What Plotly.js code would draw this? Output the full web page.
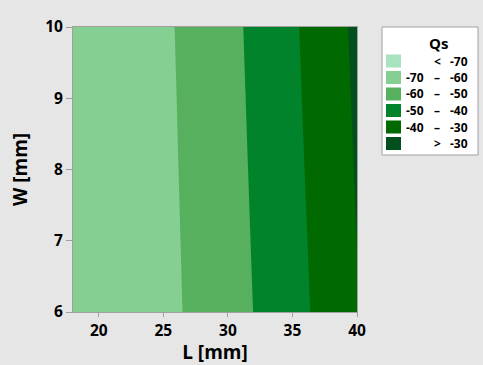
<!DOCTYPE html>
<html><head><meta charset="utf-8">
<script src="https://cdn.plot.ly/plotly-3.0.1.min.js"></script>
<style>html,body{margin:0;padding:0;background:#e6e6e6;}#chart{width:483px;height:365px;}</style>
</head><body><div id="chart"></div>
<script>
// ---- data ----
const L = [18, 20, 22, 24, 26, 28, 30, 32, 34, 36, 38, 40];
const W = [6, 8, 10];
const Qs_W6  = [-69.6, -68.8, -66.4, -63.8, -60.8, -57.5, -53.9, -49.9, -45.7, -40.9, -36.2, -30.6];
const Qs_W8  = [-69.3, -68.5, -66.05, -63.35, -60.3, -56.9, -53.2, -49.1, -44.75, -39.85, -35.0, -29.3];
const Qs_W10 = [-69.0, -68.2, -65.7, -62.9, -59.8, -56.3, -52.5, -48.3, -43.8, -38.8, -33.8, -28.0];
const levels = [-70, -60, -50, -40, -30];
const bandColors = ['#a8e3bf', '#84cf91', '#57b05d', '#00832a', '#006a00', '#004f1c'];
const legendRows = [['<', '', '-70'], ['-70', '–', '-60'], ['-60', '–', '-50'], ['-50', '–', '-40'], ['-40', '–', '-30'], ['>', '', '-30']];
const xTicks = [20, 25, 30, 35, 40];
const yTicks = [6, 7, 8, 9, 10];

// ---- layout helpers ----
const M = {l: 73, r: 126, t: 27, b: 53};
const PW = 483 - M.l - M.r, PH = 365 - M.t - M.b;
const px = x => (x - M.l) / PW;
const py = y => (365 - M.b - y) / PH;

const n = bandColors.length;
const colorscale = bandColors.map((c, i) => [i / (n - 1), c]);

const trace = {
  type: 'contour',
  x: L, y: W, z: [Qs_W6, Qs_W8, Qs_W10],
  autocontour: false,
  contours: {start: levels[0], end: levels[levels.length - 1], size: levels[1] - levels[0], coloring: 'fill', showlines: false},
  line: {width: 0},
  colorscale: colorscale,
  showscale: false,
  hoverinfo: 'skip'
};

const shapes = [{
  type: 'rect', xref: 'paper', yref: 'paper',
  x0: px(382), x1: px(478), y0: py(27), y1: py(155),
  fillcolor: '#ffffff', line: {color: '#a0a0a0', width: 1}
}];
const annotations = [{
  xref: 'paper', yref: 'paper', x: px(438), y: py(43), text: 'Qs', showarrow: false,
  xanchor: 'center', yanchor: 'middle', font: {family: 'Open Sans', size: 15, color: '#000', weight: 'bold'}
}];
const lf = {family: 'Open Sans', size: 12, color: '#000', weight: 'bold'};
legendRows.forEach((r, i) => {
  const yc = 61 + i * 16.5;
  shapes.push({type: 'rect', xref: 'paper', yref: 'paper', x0: px(386), x1: px(401), y0: py(yc + 6.5), y1: py(yc - 6.5),
    fillcolor: bandColors[i], line: {width: 0}});
  if (r[1] === '') {
    annotations.push({xref: 'paper', yref: 'paper', x: px(437), y: py(yc), text: r[0], showarrow: false, xanchor: 'center', yanchor: 'middle', font: lf});
  } else {
    annotations.push({xref: 'paper', yref: 'paper', x: px(426), y: py(yc), text: r[0], showarrow: false, xanchor: 'right', yanchor: 'middle', font: lf});
    annotations.push({xref: 'paper', yref: 'paper', x: px(437), y: py(yc), text: r[1], showarrow: false, xanchor: 'center', yanchor: 'middle', font: lf});
  }
  annotations.push({xref: 'paper', yref: 'paper', x: px(470), y: py(yc), text: r[2], showarrow: false, xanchor: 'right', yanchor: 'middle', font: lf});
});

const tickFont = {family: 'Open Sans', size: 15.5, color: '#000', weight: 'bold'};
const titleFont = {family: 'Open Sans', size: 19, color: '#000', weight: 'bold'};

const layout = {
  width: 483, height: 365,
  margin: M,
  paper_bgcolor: '#e6e6e6', plot_bgcolor: '#e6e6e6',
  showlegend: false,
  xaxis: {range: [18, 40], tickvals: xTicks, ticks: 'outside', ticklen: 4, tickcolor: '#a0a0a0',
    showgrid: false, zeroline: false, showline: true, linecolor: '#a0a0a0', mirror: true,
    tickfont: tickFont, title: {text: 'L [mm]', font: titleFont, standoff: 4}},
  yaxis: {range: [6, 10], tickvals: yTicks, ticks: 'outside', ticklen: 6, tickcolor: '#a0a0a0',
    showgrid: false, zeroline: false, showline: true, linecolor: '#a0a0a0', mirror: true,
    tickfont: tickFont, title: {text: 'W [mm]', font: titleFont, standoff: 12}},
  shapes: shapes,
  annotations: annotations
};

Plotly.newPlot('chart', [trace], layout, {displayModeBar: false, staticPlot: true});
</script>
</body></html>
